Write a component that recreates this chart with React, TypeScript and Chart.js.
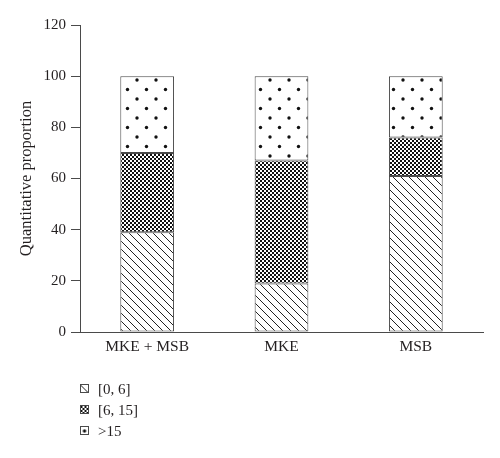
import React, { useEffect, useRef } from "react";
import { Chart, registerables } from "chart.js";

Chart.register(...registerables);

const categories = ["MKE + MSB", "MKE", "MSB"];
const seriesLabels = ["[0, 6]", "[6, 15]", ">15"];
const lowValues = [39, 19, 61];
const midValues = [31, 48, 15];
const highValues = [30, 33, 24];
const yTicks = [0, 20, 40, 60, 80, 100, 120];

const FONT = "'Liberation Serif', 'DejaVu Serif', serif";
const TEXT = "#231f20";
const LINE = "#4a4a4a";

function makeTile(w: number, h: number, draw: (c: CanvasRenderingContext2D) => void) {
  const cv = document.createElement("canvas");
  cv.width = w;
  cv.height = h;
  const c = cv.getContext("2d")!;
  c.fillStyle = "#ffffff";
  c.fillRect(0, 0, w, h);
  draw(c);
  return cv;
}

function makePatterns(ctx: CanvasRenderingContext2D) {
  const hatch = makeTile(8, 8, (c) => {
    c.strokeStyle = "#222";
    c.lineWidth = 1;
    for (const o of [-8, 0, 8]) {
      c.beginPath();
      c.moveTo(o, 0);
      c.lineTo(o + 8, 8);
      c.stroke();
    }
  });
  const checker = makeTile(4, 4, (c) => {
    c.fillStyle = "#111";
    c.fillRect(0, 0, 2, 2);
    c.fillRect(2, 2, 2, 2);
  });
  const dots = makeTile(19, 19, (c) => {
    c.fillStyle = "#111";
    for (const [x, y] of [[4, 4], [13.5, 13.5]]) {
      c.beginPath();
      c.arc(x, y, 1.7, 0, Math.PI * 2);
      c.fill();
    }
  });
  return [
    ctx.createPattern(hatch, "repeat")!,
    ctx.createPattern(checker, "repeat")!,
    ctx.createPattern(dots, "repeat")!,
  ];
}

const legendPlugin = {
  id: "customLegend",
  afterDraw(chart: any) {
    const ctx = chart.ctx as CanvasRenderingContext2D;
    chart.data.datasets.forEach((ds: any, i: number) => {
      const cy = 389 + i * 21;
      ctx.save();
      // align pattern so that a pattern feature sits at the box centre
      ctx.translate(84.5 - 4, cy - 4);
      ctx.fillStyle = ds.backgroundColor;
      ctx.fillRect(0, 0, 8, 8);
      ctx.restore();
      ctx.save();
      ctx.strokeStyle = LINE;
      ctx.lineWidth = 1;
      ctx.strokeRect(80.5, cy - 4.5, 8, 8);
      ctx.fillStyle = TEXT;
      ctx.font = `15px ${FONT}`;
      ctx.textBaseline = "middle";
      ctx.textAlign = "left";
      ctx.fillText(ds.label, 98, cy + 1);
      ctx.restore();
    });
  },
};

export default function App() {
  const ref = useRef<HTMLCanvasElement>(null);
  useEffect(() => {
    const canvas = ref.current!;
    const ctx = canvas.getContext("2d")!;
    const patterns = makePatterns(ctx);
    const values = [lowValues, midValues, highValues];
    const chart = new Chart(canvas, {
      type: "bar",
      data: {
        labels: categories,
        datasets: seriesLabels.map((label, i) => ({
          label,
          data: values[i],
          backgroundColor: patterns[i] as any,
          borderColor: LINE,
          borderWidth: 1,
          borderSkipped: false,
          categoryPercentage: 1,
          barPercentage: 0.4,
        })),
      },
      options: {
        responsive: false,
        animation: false,
        devicePixelRatio: 1,
        layout: { padding: { top: 25, right: 17, left: 0, bottom: 0 } },
        plugins: { legend: { display: false }, tooltip: { enabled: false } },
        scales: {
          x: {
            stacked: true,
            grid: { display: false, drawTicks: false },
            border: { display: true, color: LINE, width: 1 },
            ticks: { color: TEXT, font: { family: FONT, size: 15.5 }, padding: 6 },
            afterFit(scale: any) {
              scale.height = 126;
            },
          },
          y: {
            stacked: true,
            min: 0,
            max: 120,
            afterBuildTicks(scale: any) {
              scale.ticks = yTicks.map((v) => ({ value: v }));
            },
            grid: { drawOnChartArea: false, drawTicks: true, tickLength: 9, color: LINE },
            border: { display: true, color: LINE, width: 1 },
            ticks: { color: TEXT, font: { family: FONT, size: 15 }, padding: 5 },
            title: {
              display: true,
              text: "Quantitative proportion",
              color: TEXT,
              font: { family: FONT, size: 16.5 },
              padding: { top: 17, bottom: 0 },
            },
            afterFit(scale: any) {
              scale.width = 80;
            },
          },
        },
      },
      plugins: [legendPlugin],
    });
    return () => chart.destroy();
  }, []);
  return (
    <div style={{ position: "absolute", left: 0, top: 0, width: 500, height: 458, background: "#fff" }}>
      <canvas ref={ref} width={500} height={458} style={{ width: 500, height: 458, display: "block" }} />
    </div>
  );
}
